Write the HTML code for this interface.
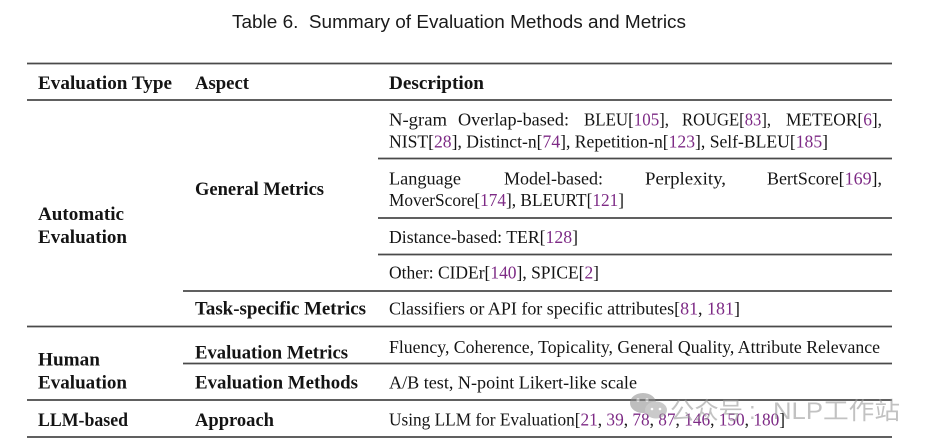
<!DOCTYPE html>
<html>
<head>
<meta charset="utf-8">
<style>
html,body{margin:0;padding:0;background:#fff;}
body{width:931px;height:447px;overflow:hidden;}
svg{display:block;}
.r{font-family:"Liberation Serif",serif;font-size:17.7px;fill:#141414;}
.b{font-family:"Liberation Serif",serif;font-size:18.5px;font-weight:bold;fill:#141414;}
.c{fill:#7d2a85;}
.t{font-family:"Liberation Sans",sans-serif;font-size:18.9px;fill:#1a1a1a;}
.w{font-family:"Liberation Sans","Noto Sans CJK SC",sans-serif;font-size:24px;fill:#9a9a9a;opacity:0.6;}
</style>
</head>
<body>
<svg width="931" height="447" viewBox="0 0 931 447" xmlns="http://www.w3.org/2000/svg">
<!-- title -->
<text class="t" x="232" y="28" textLength="454" lengthAdjust="spacingAndGlyphs" xml:space="preserve">Table 6.  Summary of Evaluation Methods and Metrics</text>

<!-- rules -->
<g stroke="#4a4a4a" stroke-width="1.8">
<line x1="27" y1="63.5" x2="892" y2="63.5"/>
<line x1="27" y1="100" x2="892" y2="100"/>
<line x1="378" y1="158.5" x2="892" y2="158.5"/>
<line x1="378" y1="218" x2="892" y2="218"/>
<line x1="378" y1="254.5" x2="892" y2="254.5"/>
<line x1="183" y1="291" x2="892" y2="291"/>
<line x1="27" y1="326.5" x2="892" y2="326.5"/>
<line x1="183" y1="363.5" x2="892" y2="363.5"/>
<line x1="27" y1="400" x2="892" y2="400"/>
<line x1="27" y1="437" x2="892" y2="437"/>
</g>

<!-- header -->
<text class="b" x="38" y="89" textLength="134" lengthAdjust="spacingAndGlyphs">Evaluation Type</text>
<text class="b" x="195" y="89" textLength="54" lengthAdjust="spacingAndGlyphs">Aspect</text>
<text class="b" x="389" y="89" textLength="95" lengthAdjust="spacingAndGlyphs">Description</text>

<!-- column 1 -->
<text class="b" x="38" y="220" textLength="86" lengthAdjust="spacingAndGlyphs">Automatic</text>
<text class="b" x="38" y="243" textLength="89" lengthAdjust="spacingAndGlyphs">Evaluation</text>
<text class="b" x="38" y="365.5" textLength="62" lengthAdjust="spacingAndGlyphs">Human</text>
<text class="b" x="38" y="388.5" textLength="89" lengthAdjust="spacingAndGlyphs">Evaluation</text>
<text class="b" x="38" y="426" textLength="90" lengthAdjust="spacingAndGlyphs">LLM-based</text>

<!-- column 2 -->
<text class="b" x="195" y="195" textLength="129" lengthAdjust="spacingAndGlyphs">General Metrics</text>
<text class="b" x="195" y="314.5" textLength="171" lengthAdjust="spacingAndGlyphs">Task-specific Metrics</text>
<text class="b" x="195" y="358.5" textLength="153" lengthAdjust="spacingAndGlyphs">Evaluation Metrics</text>
<text class="b" x="195" y="388.5" textLength="163" lengthAdjust="spacingAndGlyphs">Evaluation Methods</text>
<text class="b" x="195" y="426" textLength="79" lengthAdjust="spacingAndGlyphs">Approach</text>

<!-- column 3 -->
<text class="r" x="389" y="125.5" textLength="58" lengthAdjust="spacingAndGlyphs">N-gram</text>
<text class="r" x="458" y="125.5" textLength="111" lengthAdjust="spacingAndGlyphs">Overlap-based:</text>
<text class="r" x="584" y="125.5" textLength="85" lengthAdjust="spacingAndGlyphs">BLEU[<tspan class="c">105</tspan>],</text>
<text class="r" x="682" y="125.5" textLength="89" lengthAdjust="spacingAndGlyphs">ROUGE[<tspan class="c">83</tspan>],</text>
<text class="r" x="786" y="125.5" textLength="96" lengthAdjust="spacingAndGlyphs">METEOR[<tspan class="c">6</tspan>],</text>

<text class="r" x="389" y="147.5" textLength="439" lengthAdjust="spacingAndGlyphs">NIST[<tspan class="c">28</tspan>], Distinct-n[<tspan class="c">74</tspan>], Repetition-n[<tspan class="c">123</tspan>], Self-BLEU[<tspan class="c">185</tspan>]</text>

<text class="r" x="389" y="184.5" textLength="72" lengthAdjust="spacingAndGlyphs">Language</text>
<text class="r" x="504" y="184.5" textLength="99" lengthAdjust="spacingAndGlyphs">Model-based:</text>
<text class="r" x="645" y="184.5" textLength="81" lengthAdjust="spacingAndGlyphs">Perplexity,</text>
<text class="r" x="767" y="184.5" textLength="115" lengthAdjust="spacingAndGlyphs">BertScore[<tspan class="c">169</tspan>],</text>

<text class="r" x="389" y="206" textLength="235" lengthAdjust="spacingAndGlyphs">MoverScore[<tspan class="c">174</tspan>], BLEURT[<tspan class="c">121</tspan>]</text>

<text class="r" x="389" y="243" textLength="189" lengthAdjust="spacingAndGlyphs">Distance-based: TER[<tspan class="c">128</tspan>]</text>
<text class="r" x="389" y="278.5" textLength="210" lengthAdjust="spacingAndGlyphs">Other: CIDEr[<tspan class="c">140</tspan>], SPICE[<tspan class="c">2</tspan>]</text>
<text class="r" x="389" y="314.5" textLength="351" lengthAdjust="spacingAndGlyphs">Classifiers or API for specific attributes[<tspan class="c">81</tspan>, <tspan class="c">181</tspan>]</text>
<text class="r" x="389" y="353" textLength="491" lengthAdjust="spacingAndGlyphs">Fluency, Coherence, Topicality, General Quality, Attribute Relevance</text>
<text class="r" x="389" y="388.5" textLength="248" lengthAdjust="spacingAndGlyphs">A/B test, N-point Likert-like scale</text>
<text class="r" x="389" y="425.5" textLength="396" lengthAdjust="spacingAndGlyphs">Using LLM for Evaluation[<tspan class="c">21</tspan>, <tspan class="c">39</tspan>, <tspan class="c">78</tspan>, <tspan class="c">87</tspan>, <tspan class="c">146</tspan>, <tspan class="c">150</tspan>, <tspan class="c">180</tspan>]</text>

<!-- watermark -->
<g opacity="0.55" fill="#8a8a8a">
<ellipse cx="643" cy="403" rx="13" ry="10"/>
<ellipse cx="656" cy="410" rx="11" ry="8.5" fill="#a0a0a0"/>
<circle cx="638" cy="400" r="1.6" fill="#fff"/>
<circle cx="647" cy="400" r="1.6" fill="#fff"/>
<circle cx="652" cy="409" r="1.3" fill="#fff"/>
<circle cx="660" cy="409" r="1.3" fill="#fff"/>
</g>
<text class="w" x="670" y="419" textLength="73" lengthAdjust="spacingAndGlyphs">公众号</text>
<text class="w" x="749" y="419">:</text>
<text class="w" x="773" y="419" textLength="127" lengthAdjust="spacingAndGlyphs">NLP工作站</text>
</svg>
</body>
</html>
